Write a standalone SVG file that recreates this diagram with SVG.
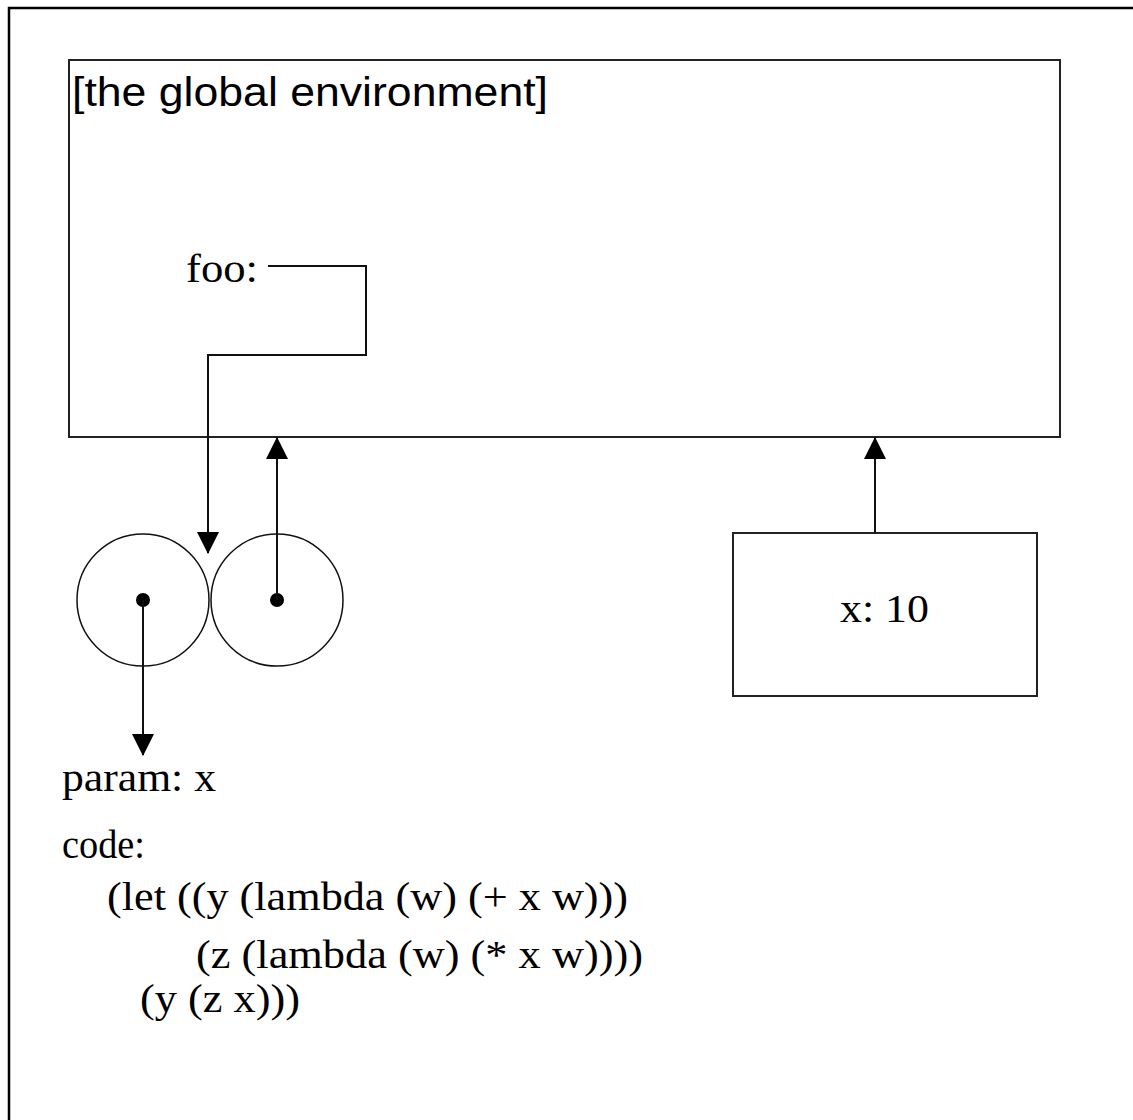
<svg xmlns="http://www.w3.org/2000/svg" width="1133" height="1120" viewBox="0 0 1133 1120">
  <style>
    .frame { fill: none; stroke: #000; stroke-width: 2.5; }
    .box { fill: #fff; stroke: #222; stroke-width: 2; }
    .cell { fill: none; stroke: #111; stroke-width: 1.5; }
    .dot { fill: #000; }
    .edge { fill: none; stroke: #111; stroke-width: 2; }
    .sans { font-family: "Liberation Sans", Arial, sans-serif; font-size: 40px; fill: #000; }
    .serif { font-family: "Liberation Serif", "Times New Roman", serif; font-size: 40px; fill: #000; }
  </style>
  <defs>
    <marker id="arrow" markerUnits="userSpaceOnUse" markerWidth="22" markerHeight="22" refX="21" refY="11" orient="auto">
      <path d="M0,0 L22,11 L0,22 z" fill="#000"/>
    </marker>
  </defs>
  <rect width="1133" height="1120" fill="#fff"/>
  <!-- page frame (left and top edges) -->
  <path class="frame" d="M9,1120 V8 H1133"/>

  <g id="global-env">
    <rect class="box" x="69" y="60" width="991" height="377"/>
    <text class="sans" x="72" y="106" textLength="476" lengthAdjust="spacingAndGlyphs">[the global environment]</text>
    <text class="serif" x="186" y="282" textLength="72" lengthAdjust="spacingAndGlyphs">foo:</text>
  </g>

  <g id="closure">
    <circle class="cell" cx="143" cy="600" r="66"/>
    <circle class="cell" cx="277" cy="600" r="66"/>
    <circle class="dot" cx="143" cy="600" r="7"/>
    <circle class="dot" cx="277" cy="600" r="7"/>
  </g>

  <g id="frame-x">
    <rect class="box" x="733" y="533" width="304" height="163"/>
    <text class="serif" x="840" y="622" textLength="89" lengthAdjust="spacingAndGlyphs">x: 10</text>
  </g>

  <g id="procedure">
    <text class="serif" x="62" y="791" textLength="154" lengthAdjust="spacingAndGlyphs">param: x</text>
    <text class="serif" x="62" y="858" textLength="83" lengthAdjust="spacingAndGlyphs">code:</text>
    <text class="serif" x="107" y="910" textLength="521" lengthAdjust="spacingAndGlyphs">(let ((y (lambda (w) (+ x w)))</text>
    <text class="serif" x="196" y="968" textLength="447" lengthAdjust="spacingAndGlyphs">(z (lambda (w) (* x w))))</text>
    <text class="serif" x="140" y="1012" textLength="160" lengthAdjust="spacingAndGlyphs">(y (z x)))</text>
  </g>

  <g id="connectors">
    <path class="edge" d="M268,266 H366 V355 H208 V553" marker-end="url(#arrow)"/>
    <path class="edge" d="M277,600 V438" marker-end="url(#arrow)"/>
    <path class="edge" d="M143,600 V755" marker-end="url(#arrow)"/>
    <path class="edge" d="M875,533 V438" marker-end="url(#arrow)"/>
  </g>
</svg>
